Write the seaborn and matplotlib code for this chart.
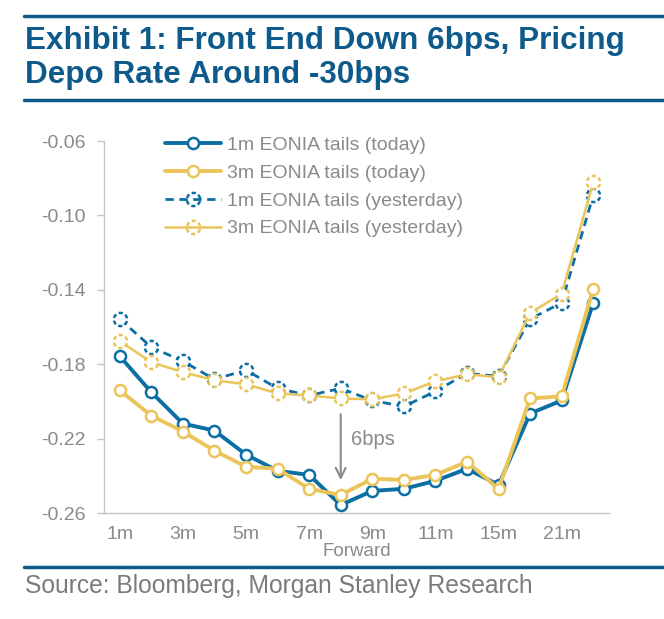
import matplotlib
matplotlib.use('Agg')
import matplotlib.pyplot as plt
import seaborn as sns
import numpy as np
from matplotlib.path import Path
from matplotlib.lines import Line2D

tenors = ['1m', '2m', '3m', '4m', '5m', '6m', '7m', '8m', '9m', '10m',
          '11m', '12m', '15m', '18m', '21m', '24m']
tick_labels = ['1m', '3m', '5m', '7m', '9m', '11m', '15m', '21m']

eonia_1m_today = [-0.1757, -0.1951, -0.2119, -0.2157, -0.2286, -0.2373, -0.2395, -0.2557,
                  -0.2481, -0.2470, -0.2427, -0.2362, -0.2449, -0.2065, -0.1995, -0.1470]
eonia_3m_today = [-0.1941, -0.2076, -0.2162, -0.2265, -0.2351, -0.2362, -0.2470, -0.2503,
                  -0.2416, -0.2422, -0.2395, -0.2324, -0.2470, -0.1984, -0.1973, -0.1395]
eonia_1m_yest = [-0.1557, -0.1708, -0.1784, -0.1881, -0.1832, -0.1930, -0.1968, -0.1930,
                 -0.1995, -0.2027, -0.1946, -0.1849, -0.1865, -0.1557, -0.1470, -0.0892]
eonia_3m_yest = [-0.1676, -0.1789, -0.1843, -0.1886, -0.1908, -0.1957, -0.1968, -0.1984,
                 -0.1989, -0.1957, -0.1892, -0.1854, -0.1870, -0.1524, -0.1422, -0.0822]

BLUE = '#0b6fa4'
GOLD = '#ebc45a'
NAVY = '#0e5a8a'
GREY = '#8a8a8a'

sns.set_style('white')
plt.rcParams['font.family'] = ['Liberation Sans', 'DejaVu Sans']


def dashed_circle(n=6, frac=0.6):
    step = 360.0 / n
    arcs = [Path.arc(i * step + 10, i * step + 10 + step * frac) for i in range(n)]
    return Path.make_compound_path(*arcs)


DASHED = dashed_circle()
x = np.arange(len(tenors))

fig = plt.figure(figsize=(6.64, 6.19), dpi=100)
ax = fig.add_axes([0.1566, 0.1712, 0.7606, 0.601])

# yesterday curves: line + white disc, then dashed ring on top
for vals, col, ls, lw in [(eonia_1m_yest, BLUE, (0, (3, 2)), 2.0),
                          (eonia_3m_yest, GOLD, '-', 1.8)]:
    sns.lineplot(x=x, y=vals, ax=ax, color=col, linewidth=lw, linestyle=ls,
                 marker='o', markersize=8, markerfacecolor='white',
                 markeredgecolor='none', errorbar=None, sort=False)
    ax.plot(x, vals, linestyle='none', marker=DASHED, markersize=9.5,
            markerfacecolor='none', markeredgecolor=col, markeredgewidth=1.8)

# today curves
for vals, col in [(eonia_1m_today, BLUE), (eonia_3m_today, GOLD)]:
    sns.lineplot(x=x, y=vals, ax=ax, color=col, linewidth=2.8,
                 marker='o', markersize=8, markerfacecolor='white',
                 markeredgecolor=col, markeredgewidth=1.8,
                 errorbar=None, sort=False)

ax.set_xlim(-0.5, len(tenors) - 0.5)
ax.set_ylim(-0.26, -0.06)
ax.set_yticks(np.arange(-0.26, -0.059, 0.04))
ax.set_yticklabels([f'{v:.2f}' for v in np.arange(-0.26, -0.059, 0.04)])
ax.set_xticks([tenors.index(t) for t in tick_labels])
ax.set_xticklabels(tick_labels)
ax.set_xticks(np.arange(-0.5, len(tenors)), minor=True)
ax.tick_params(axis='x', which='major', length=0, pad=9, labelsize=14, labelcolor=GREY)
ax.tick_params(axis='x', which='minor', length=4, width=1, color='#c4c4c4', direction='out')
ax.tick_params(axis='y', length=5, width=1, color='#c4c4c4', labelsize=14,
               labelcolor=GREY, pad=8, left=True)
for side in ['top', 'right']:
    ax.spines[side].set_visible(False)
for side in ['left', 'bottom']:
    ax.spines[side].set_color('#c4c4c4')
    ax.spines[side].set_linewidth(1)
ax.set_xlabel('Forward', fontsize=13.5, color=GREY, labelpad=0)
ax.set_ylabel('')

ax.annotate('', xy=(7, -0.2438), xytext=(7, -0.2054),
            arrowprops=dict(arrowstyle='->', color=GREY, lw=1.5, mutation_scale=18))
ax.text(7.32, -0.2205, '6bps', fontsize=14.5, color=GREY, ha='left', va='center')

handles = [
    Line2D([], [], color=BLUE, lw=2.8, marker='o', ms=8, mfc='white', mec=BLUE, mew=1.8),
    Line2D([], [], color=GOLD, lw=2.8, marker='o', ms=8, mfc='white', mec=GOLD, mew=1.8),
    Line2D([], [], color=BLUE, lw=2.0, ls=(0, (3, 2)), marker=DASHED, ms=9.5,
           mfc='white', mec=BLUE, mew=1.8),
    Line2D([], [], color=GOLD, lw=1.8, marker=DASHED, ms=9.5, mfc='white', mec=GOLD, mew=1.8),
]
labels = ['1m EONIA tails (today)', '3m EONIA tails (today)',
          '1m EONIA tails (yesterday)', '3m EONIA tails (yesterday)']
ax.legend(handles, labels, loc='upper left', bbox_to_anchor=(0.12, 1.012),
          frameon=False, fontsize=14, labelcolor=GREY, handlelength=2.9,
          handletextpad=0.3, labelspacing=0.52, borderpad=0, borderaxespad=0)

# header / footer
fig.add_artist(Line2D([24 / 664, 1], [1 - 15.5 / 619] * 2, color=NAVY, lw=2.5))
fig.add_artist(Line2D([24 / 664, 1], [1 - 99.5 / 619] * 2, color=NAVY, lw=2.5))
fig.add_artist(Line2D([24 / 664, 1], [1 - 567 / 619] * 2, color=NAVY, lw=2.5))
fig.text(25 / 664, 1 - 49 / 619, 'Exhibit 1: Front End Down 6bps, Pricing',
         fontsize=22.6, fontweight='bold', color=NAVY, va='baseline', ha='left')
fig.text(25 / 664, 1 - 83 / 619, 'Depo Rate Around -30bps',
         fontsize=22.6, fontweight='bold', color=NAVY, va='baseline', ha='left')
fig.text(25 / 664, 1 - 593 / 619, 'Source: Bloomberg, Morgan Stanley Research',
         fontsize=17.7, color='#7b7b7b', va='baseline', ha='left')

fig.savefig('out.png', dpi=100)
